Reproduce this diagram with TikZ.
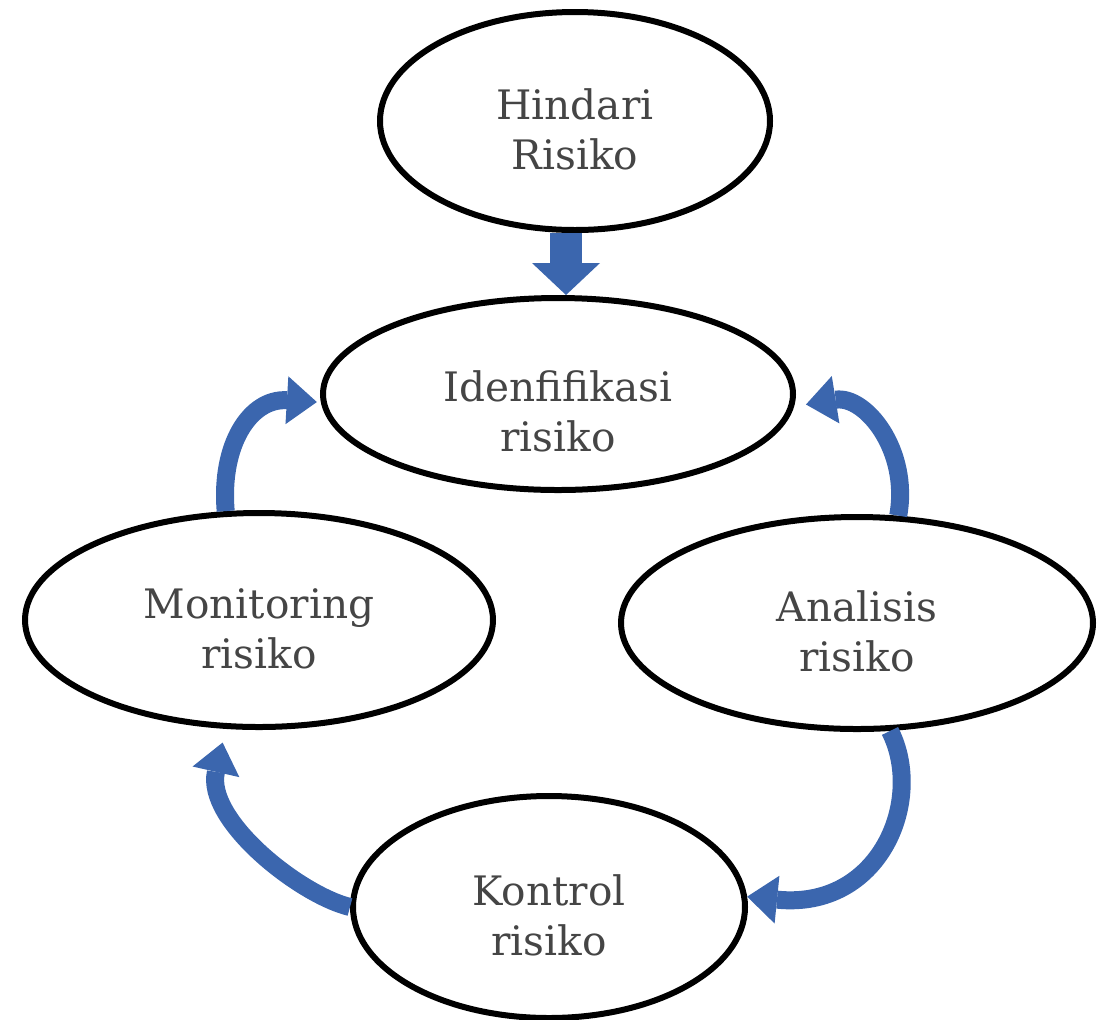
\documentclass[tikz,border=0pt]{standalone}
\usepackage{fontspec}
\setmainfont{DejaVu Serif}
\usepackage{xcolor}
\usepackage{tikz}
\usetikzlibrary{arrows.meta,shapes}
\definecolor{arrowblue}{HTML}{3B66AE}
\definecolor{textgray}{HTML}{454545}

\begin{document}
\begin{tikzpicture}[x=0.5pt,y=-0.5pt,
  every node/.style={align=center,font=\fontsize{20.3}{25}\selectfont,text=textgray},
  drop/.style={execute at begin node=\rule{0pt}{#1}},
  stage/.style={draw,ellipse,line width=3pt,inner sep=0pt,drop=49pt},
  flow/.style={draw=arrowblue,line width=9pt,
    -{Triangle[width=24pt,length=15pt,line width=0pt]}},
  bigflow/.style={draw=arrowblue,line width=16pt,
    -{Triangle[width=34pt,length=16pt,line width=0pt]}}]

    \useasboundingbox (0,0) rectangle (1103,1019);

    \node[stage,minimum width=195pt,minimum height=109pt](hindari) at (575,121){Hindari\\Risiko};
    \node[stage,drop=58pt,minimum width=235pt,minimum height=96pt](identifikasi) at (558,394){Idenfifikasi\\risiko};
    \node[stage,minimum width=234pt,minimum height=107pt](monitoring) at (259,620){Monitoring\\risiko};
    \node[stage,minimum width=236pt,minimum height=106pt](analisis) at (857,623){Analisis\\risiko};
    \node[stage,minimum width=196pt,minimum height=111pt](kontrol) at (549,907){Kontrol\\risiko};

    \draw[bigflow]([xshift=-4.5pt]hindari.south) -- ([xshift=4pt]identifikasi.north);

    \draw[flow,shorten >=2pt](monitoring.107) .. controls (220,445) and (250,398) .. (identifikasi.182);
    \draw[flow,shorten >=6pt](analisis.69) .. controls (910,450) and (865,395) .. (identifikasi.-3);
    \draw[flow](analisis.-73) .. controls (925,800) and (880,910) .. (kontrol.3);
    \draw[flow,shorten >=7pt](kontrol.west) .. controls (300,895) and (205,820) .. (monitoring.-107);
\end{tikzpicture}
\end{document}
